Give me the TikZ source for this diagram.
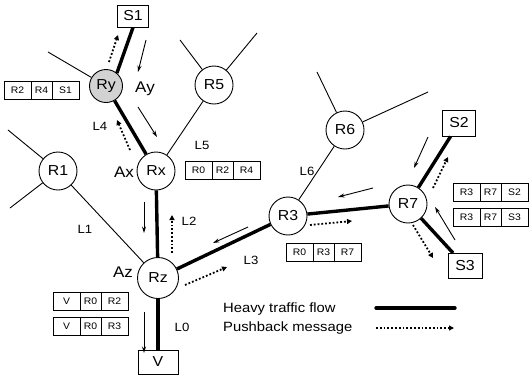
\documentclass[tikz,border=0pt]{standalone}
\usepackage{fontspec}
\setmainfont{Liberation Sans}[FakeStretch=1.1]
\usetikzlibrary{arrows.meta}
\tikzset{
  router/.style={circle, draw, line width=0.9bp, minimum size=38bp, inner sep=0pt, font=\fontsize{14.5}{14.5}\selectfont},
  hostbox/.style={rectangle, draw, line width=0.9bp, inner sep=0pt, font=\fontsize{14.5}{14.5}\selectfont},
  cellbox/.style={rectangle, draw, line width=0.8bp, minimum height=18bp, inner sep=0pt, outer sep=0pt, font=\fontsize{9.5}{9.5}\selectfont},
  lbl/.style={inner sep=0pt, font=\fontsize{12}{12}\selectfont},
  albl/.style={inner sep=0pt, font=\fontsize{15.5}{15.5}\selectfont},
  thinlink/.style={line width=0.9bp},
  heavy/.style={line width=3.4bp},
  flowarrow/.style={line width=0.9bp, -{Stealth[length=6.5bp,width=4bp]}},
  pushback/.style={line width=1.8bp, dotted, -{Triangle[length=5bp,width=5bp]}},
}
\newcommand\rtable[6]{%
  \node[cellbox, minimum width=27bp, anchor=west] (#1a) at (#2,#3) {#4};
  \node[cellbox, minimum width=21bp, anchor=west] (#1b) at (#1a.east) {#5};
  \node[cellbox, minimum width=27bp, anchor=west] (#1c) at (#1b.east) {#6};}
\begin{document}
\begin{tikzpicture}[x=1bp,y=-1bp]
\useasboundingbox (0,0) rectangle (529,376);
% nodes
\node[hostbox, minimum width=31bp, minimum height=22bp] (S1) at (133,16) {S1};
\node[router, minimum size=33bp, fill=gray!35] (Ry) at (106,86) {Ry};
\node[router] (R5) at (214,85) {R5};
\node[router] (Rx) at (156,171) {Rx};
\node[router] (R1) at (58,171) {R1};
\node[router, minimum size=41bp] (Rz) at (158,278) {Rz};
\node[hostbox, minimum width=40bp, minimum height=24bp] (V) at (158,362) {V};
\node[router] (R3) at (288,216) {R3};
\node[router] (R6) at (345,130) {R6};
\node[router] (R7) at (408,204) {R7};
\node[hostbox, minimum width=33bp, minimum height=26bp] (S2) at (459,123) {S2};
\node[hostbox, minimum width=34bp, minimum height=25bp] (S3) at (465,266) {S3};
% free ends
\coordinate (e1) at (48,52);
\coordinate (e2) at (180,40);
\coordinate (e3) at (257,33);
\coordinate (e4) at (8,130);
\coordinate (e5) at (10,208);
\coordinate (e6) at (317,72);
\coordinate (e7) at (428,92);
% thin links
\draw[thinlink] (Ry) -- (e1);
\draw[thinlink] (R5) -- (e2);
\draw[thinlink] (R5) -- (e3);
\draw[thinlink] (R1) -- (e4);
\draw[thinlink] (R1) -- (e5);
\draw[thinlink] (R6) -- (e6);
\draw[thinlink] (R6) -- (e7);
\draw[thinlink] (R1) -- (Rz);
\draw[thinlink] (R5) -- (Rx);
\draw[thinlink] (R6) -- (R3);
% heavy links
\draw[heavy] (S1.south) -- (Ry.50);
\draw[heavy] (Ry) -- (Rx);
\draw[heavy] (Rx) -- (Rz);
\draw[heavy] (Rz) -- (V);
\draw[heavy] (Rz) -- (R3);
\draw[heavy] (R3) -- (R7);
\draw[heavy] (R7) -- (S2);
\draw[heavy] (R7) -- (S3);
% traffic arrows
\draw[flowarrow] (146,40) -- (138,72);
\draw[flowarrow] (138,107) -- (157,137);
\draw[flowarrow] (144,202) -- (144,233);
\draw[flowarrow] (144,312) -- (144,353);
\draw[flowarrow] (248,227) -- (213,243);
\draw[flowarrow] (373,188) -- (338,197);
\draw[flowarrow] (428,137) -- (414,168);
\draw[flowarrow] (455,240) -- (435,207);
% pushback arrows
\draw[pushback] (109,62) -- (118,35);
\draw[pushback] (130,150) -- (117,120);
\draw[pushback] (172,253) -- (172,215);
\draw[pushback] (185,285) -- (227,267);
\draw[pushback] (310,225) -- (352,221);
\draw[pushback] (433,188) -- (448,157);
\draw[pushback] (413,225) -- (433,258);
% labels
\node[albl] (lAy) at (145,89) {Ay};
\node[albl] (lAx) at (124,172) {Ax};
\node[albl] (lAz) at (123,272) {Az};
\node[lbl] (lL4) at (100,126) {L4};
\node[lbl] (lL5) at (202,145) {L5};
\node[lbl] (lL1) at (85,229) {L1};
\node[lbl] (lL2) at (189,221) {L2};
\node[lbl] (lL3) at (251,260) {L3};
\node[lbl] (lL0) at (182,327) {L0};
\node[lbl] (lL6) at (307,171) {L6};
% tables
\rtable{ta}{4}{90}{R2}{R4}{S1}
\rtable{tb}{185}{170}{R0}{R2}{R4}
\rtable{tc}{286}{252}{R0}{R3}{R7}
\rtable{td}{453}{192}{R3}{R7}{S2}
\rtable{te}{453}{217}{R3}{R7}{S3}
\rtable{tf}{53}{301}{V}{R0}{R2}
\rtable{tg}{53}{326}{V}{R0}{R3}
% legend
\node[inner sep=0pt, anchor=west, font=\fontsize{13.5}{13.5}\selectfont] (leg1) at (223,309) {Heavy traffic flow};
\node[inner sep=0pt, anchor=west, font=\fontsize{13.5}{13.5}\selectfont] (leg2) at (223,328) {Pushback message};
\coordinate (h1) at (376,308);
\coordinate (h2) at (455,308);
\coordinate (p1) at (376,328);
\coordinate (p2) at (454,328);
\draw[heavy, line cap=round] (h1) -- (h2);
\draw[pushback] (p1) -- (p2);
\end{tikzpicture}
\end{document}
